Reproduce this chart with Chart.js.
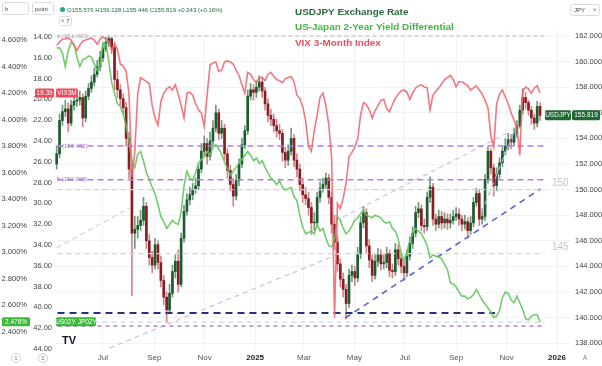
<!DOCTYPE html>
<html>
<head>
<meta charset="utf-8">
<script src="https://cdn.jsdelivr.net/npm/chart.js@4.4.1/dist/chart.umd.min.js"></script>
<style>
  html, body { margin: 0; padding: 0; background: #fff; }
  #wrap { width: 602px; height: 366px; }
</style>
</head>
<body>
<div id="wrap"><canvas id="chartCanvas" width="602" height="366"></canvas></div>
<script>
// ===============================
// DATA
// ===============================
// half-week candles, day numbers counted from 2024-01-01
const START_DAY = 126;   // 2024-05-06
const STEP_DAYS = 3.5;
const firstOpen = 152.0;

const usdjpyClose = [
  152.8,155.4,156.1,156.3,155.2,156.6,156.9,157.0,157.2,155.6,
  157.3,157.9,158.4,159.0,159.6,160.3,161.0,161.5,161.8,161.1,
  158.6,157.8,157.1,156.4,154.0,151.6,146.6,146.9,147.2,147.6,
  148.7,146.0,144.7,144.1,145.7,144.3,142.9,141.6,140.6,141.9,
  143.6,144.4,142.6,146.2,148.3,149.2,149.6,150.0,150.3,151.6,
  153.0,153.6,152.6,153.8,154.8,156.0,154.4,154.8,152.8,151.5,
  150.4,149.5,150.7,152.0,153.5,154.6,157.3,157.8,157.6,158.0,
  158.4,157.7,156.7,155.8,155.5,155.0,154.6,154.4,152.9,152.3,
  153.0,154.0,152.3,151.6,150.4,149.6,149.3,148.6,147.4,147.4,
  149.4,150.1,150.4,150.9,149.4,147.3,145.9,144.2,143.0,142.2,
  141.1,143.3,143.6,143.1,145.0,147.4,148.2,145.6,144.5,143.3,
  144.4,144.9,144.2,144.3,145.0,143.7,143.6,145.3,144.6,144.0,
  143.5,144.8,145.8,146.6,148.2,148.5,147.2,147.1,149.4,150.2,
  147.7,147.3,147.9,147.4,147.7,147.4,147.6,147.9,148.1,147.7,
  147.3,147.5,146.8,147.4,149.0,149.7,147.7,147.9,150.8,153.0,
  151.7,150.3,151.2,152.1,153.0,153.4,153.9,153.7,154.4,155.0,
  156.2,157.2,156.8,156.2,155.6,155.2,156.5,155.8
];
const usdjpyHigh = [
  153.4,155.9,156.6,157.0,156.8,157.0,157.4,157.6,157.7,157.5,
  157.7,158.3,158.9,159.5,160.1,160.8,161.4,161.9,162.0,161.9,
  161.3,159.3,158.2,157.5,156.8,154.5,152.0,147.9,147.9,148.4,
  149.4,149.0,146.5,145.2,146.2,146.0,144.8,143.3,142.0,142.6,
  144.1,144.9,145.3,146.6,148.8,149.7,150.2,150.5,150.9,152.0,
  153.6,154.2,154.0,154.5,155.4,156.6,156.3,155.4,155.1,153.2,
  151.9,150.9,151.2,152.4,154.0,155.0,157.8,158.3,158.2,158.5,
  158.9,158.8,158.0,157.1,156.3,155.9,155.5,155.1,154.7,153.3,
  153.5,154.8,154.3,152.8,152.0,150.9,150.2,149.8,149.0,148.2,
  149.8,150.6,150.9,151.3,151.2,149.8,148.0,146.4,144.6,143.5,
  142.6,143.8,144.1,144.0,145.5,147.9,148.7,148.5,146.1,144.9,
  144.9,145.4,145.3,144.9,145.5,145.3,144.2,145.8,145.7,145.0,
  144.4,145.3,146.3,147.1,148.7,149.0,148.8,147.7,149.8,151.0,
  150.5,148.1,148.4,148.3,148.2,148.1,148.1,148.4,148.6,148.5,
  148.0,148.0,147.8,147.9,149.4,150.1,150.0,148.5,151.2,153.3,
  153.2,152.0,151.7,152.5,153.4,154.0,154.4,154.3,154.8,155.4,
  156.6,157.9,157.6,157.0,156.5,155.9,156.9,156.8
];
const usdjpyLow = [
  151.6,152.5,155.0,155.7,154.5,155.0,156.2,156.5,156.6,154.9,
  155.3,157.0,157.6,158.1,158.8,159.3,160.0,160.8,161.2,160.6,
  157.8,157.2,156.6,155.9,153.4,150.9,141.7,145.4,146.2,146.8,
  147.2,145.4,144.1,143.5,143.8,143.8,142.4,141.0,139.6,140.3,
  141.6,143.1,142.0,142.4,145.9,148.0,148.8,149.2,149.7,150.0,
  151.3,152.6,152.0,152.3,153.5,154.5,153.9,154.0,152.3,150.9,
  149.9,148.7,149.2,150.3,151.7,153.2,154.3,157.0,157.0,157.2,
  157.7,157.2,156.2,155.3,155.0,154.5,154.1,153.9,152.2,151.7,
  151.9,152.7,151.8,151.0,149.9,149.0,148.8,148.0,146.5,146.8,
  147.1,149.0,149.8,150.1,148.9,146.6,145.3,143.6,142.4,141.6,
  139.9,140.8,142.8,142.5,142.8,144.6,147.0,145.1,143.9,142.8,
  143.0,144.0,143.7,143.8,143.9,143.2,143.1,143.3,144.1,143.5,
  142.9,143.2,144.5,145.4,146.3,147.8,146.8,146.6,146.8,149.0,
  147.2,146.8,147.0,146.9,147.0,146.9,147.0,147.3,147.6,147.2,
  146.8,146.9,146.2,146.5,147.1,148.7,147.2,147.3,147.6,150.5,
  151.2,149.5,149.9,150.9,151.8,152.7,153.1,153.2,153.4,154.1,
  154.8,155.9,156.3,155.8,155.1,154.7,154.9,155.4
];
const vix3m = [
  14.8,14.5,14.2,14.2,14.1,14.3,14.8,15.3,14.8,14.4,
  14.3,14.2,14.1,14.3,14.7,14.2,14.0,14.2,14.4,15.3,
  14.6,15.2,16.6,16.8,17.3,19.5,27.5,25.0,19.5,17.9,
  18.1,18.3,18.5,20.6,21.8,22.5,20.2,19.4,19.0,18.8,
  19.1,18.6,19.5,20.6,21.8,19.4,19.3,19.6,20.4,21.0,
  21.3,22.6,19.5,16.7,16.5,16.4,17.3,17.2,16.4,16.3,
  16.4,16.6,17.2,17.7,18.6,19.4,17.4,17.6,18.1,18.4,
  17.9,17.9,18.2,17.6,17.4,17.8,18.1,18.2,18.4,18.0,
  17.9,17.8,18.3,19.6,19.9,20.7,22.0,24.5,25.0,23.0,
  21.5,19.8,19.4,20.6,22.4,25.6,41.0,30.0,30.5,29.5,
  28.0,25.5,25.1,24.6,23.8,21.5,20.3,20.5,21.0,21.8,
  21.1,20.6,20.1,20.0,20.9,21.2,20.5,19.9,19.5,19.2,
  19.1,19.3,20.0,19.4,18.9,18.7,18.6,18.8,18.9,21.0,
  19.6,19.2,18.9,18.5,18.1,17.9,17.7,18.1,18.8,18.3,
  18.3,18.5,18.7,19.1,18.9,18.7,19.1,19.5,20.1,20.8,
  23.5,24.6,20.4,19.5,19.1,19.8,20.4,21.3,22.0,22.7,
  25.4,19.3,18.8,19.0,19.4,18.9,18.7,19.39
];
const yieldDiff = [
  4.54,4.54,4.50,4.40,4.52,4.58,4.57,4.47,4.40,4.45,
  4.46,4.48,4.47,4.42,4.37,4.41,4.58,4.57,4.44,4.28,
  4.20,4.12,4.10,4.04,3.95,3.83,3.69,3.64,3.74,3.76,
  3.69,3.60,3.55,3.49,3.44,3.36,3.27,3.23,3.18,3.21,
  3.24,3.22,3.21,3.30,3.50,3.61,3.56,3.54,3.60,3.67,
  3.70,3.72,3.76,3.73,3.79,3.81,3.78,3.74,3.68,3.63,
  3.58,3.61,3.64,3.67,3.70,3.73,3.76,3.73,3.69,3.71,
  3.67,3.69,3.64,3.60,3.56,3.54,3.51,3.54,3.49,3.47,
  3.48,3.49,3.42,3.39,3.28,3.19,3.14,3.15,3.16,3.14,
  3.21,3.16,3.18,3.11,3.05,3.04,3.10,3.27,3.24,3.18,
  3.14,3.16,3.20,3.24,3.26,3.29,3.32,3.28,3.27,3.26,
  3.28,3.27,3.26,3.23,3.22,3.23,3.18,3.16,3.10,2.99,
  2.94,3.00,3.09,3.14,3.18,3.16,3.14,3.10,3.05,2.96,
  2.98,2.97,2.97,2.95,2.91,2.87,2.77,2.76,2.74,2.70,
  2.67,2.67,2.65,2.66,2.68,2.72,2.68,2.64,2.61,2.58,
  2.55,2.51,2.52,2.56,2.66,2.70,2.69,2.64,2.62,2.67,
  2.62,2.57,2.50,2.49,2.52,2.53,2.53,2.476
];

// x axis month labels
const tickDates  = ["2024-07-01","2024-09-01","2024-11-01","2025-01-01","2025-03-01","2025-05-01","2025-07-01","2025-09-01","2025-11-01","2026-01-01"];
const tickLabels = ["Jul","Sep","Nov","2025","Mar","May","Jul","Sep","Nov","2026"];

// drawn levels on the USDJPY scale
const levelPrices = [162.0, 153.402, 150.768, 150.0, 145.0, 140.36, 139.65, 139.34];
const levelFrom   = "2024-05-07";
const levelTo     = ["2025-12-17","2025-12-17","2025-12-17","2025-12-17","2025-12-17","2025-10-18","2025-12-17","2025-12-17"];

// trend lines [date, price] -> [date, price]
const trendLines = [
  [["2024-07-09", 137.62], ["2025-04-13", 145.0]],
  [["2024-05-06", 145.44], ["2024-08-02", 148.56]],
  [["2025-04-17", 147.86], ["2025-11-07", 154.58]],
  [["2025-10-02", 148.25], ["2025-11-11", 154.66]],
  [["2025-04-20", 139.97], ["2025-12-12", 150.05]]
];

const lastClose = 155.819;
const lastVix = 19.39;
const lastYield = 2.476;
const ohlcText = "O155.576 H156.128 L155.446 C155.819 +0.243 (+0.16%)";

// ===============================
// BUILD
// ===============================
const dayOf = s => (Date.parse(s) - Date.parse("2024-01-01")) / 864e5;
const days = usdjpyClose.map((_, i) => START_DAY + i * STEP_DAYS);
const opens = usdjpyClose.map((c, i) => i ? usdjpyClose[i - 1] : firstOpen);
const isUp = usdjpyClose.map((c, i) => c >= opens[i]);

const FONT = "'Liberation Sans', Arial, sans-serif";

const levelStyles = [
  { c: "#b4b7bf", w: 1,   d: [4, 3] },
  { c: "#b27fdc", w: 1.5, d: [6, 4] },
  { c: "#b27fdc", w: 1.5, d: [6, 4] },
  { c: "#d2d3d7", w: 1.2, d: [5, 4] },
  { c: "#d2d3d7", w: 1.2, d: [5, 4] },
  { c: "#26337a", w: 2,   d: [7, 5] },
  { c: "#c9cacf", w: 1,   d: [5, 4] },
  { c: "#a45ac2", w: 1.2, d: [4, 4] }
];
const trendStyles = [
  { c: "#c3c2ea", w: 1.2, d: [5, 4] },
  { c: "#cfd0dc", w: 1.2, d: [5, 4] },
  { c: "#c3c8ec", w: 1.2, d: [5, 4] },
  { c: "#a9bbe8", w: 1.2, d: [5, 4] },
  { c: "#5863d4", w: 1.6, d: [6, 5] }
];

const datasets = [];

datasets.push({
  type: "line", label: "VIX", yAxisID: "yV", order: 0,
  data: days.map((d, i) => ({ x: d, y: vix3m[i] })),
  borderColor: "rgba(240,100,110,0.88)", borderWidth: 1.6,
  pointRadius: 0, tension: 0
});
datasets.push({
  type: "line", label: "Yield", yAxisID: "yP", order: 1,
  data: days.map((d, i) => ({ x: d, y: yieldDiff[i] })),
  borderColor: "rgba(98,200,92,0.9)", borderWidth: 1.6,
  pointRadius: 0, tension: 0
});
levelPrices.forEach((p, i) => {
  const s = levelStyles[i];
  datasets.push({
    type: "line", yAxisID: "yJ", order: 2,
    data: [{ x: dayOf(levelFrom), y: p }, { x: dayOf(levelTo[i]), y: p }],
    borderColor: s.c, borderWidth: s.w, borderDash: s.d, pointRadius: 0
  });
});
trendLines.forEach((t, i) => {
  const s = trendStyles[i];
  datasets.push({
    type: "line", yAxisID: "yJ", order: 2,
    data: t.map(([d, p]) => ({ x: dayOf(d), y: p })),
    borderColor: s.c, borderWidth: s.w, borderDash: s.d, pointRadius: 0
  });
});
datasets.push({
  type: "bar", yAxisID: "yJ", order: 3, grouped: false,
  data: days.map((d, i) => ({ x: d, y: [opens[i], usdjpyClose[i]] })),
  backgroundColor: isUp.map(u => u ? "#1d5a30" : "#8a1c22"),
  barThickness: 2, minBarLength: 1, borderWidth: 0
});
datasets.push({
  type: "bar", yAxisID: "yJ", order: 4, grouped: false,
  data: days.map((d, i) => ({ x: d, y: [usdjpyLow[i], usdjpyHigh[i]] })),
  backgroundColor: isUp.map(u => u ? "#6f9a7a" : "#d0858b"),
  barThickness: 1, borderWidth: 0
});

// ===============================
// OVERLAY (labels, tags, toolbar)
// ===============================
function tag(ctx, x, y, w, h, bg, text, size) {
  ctx.fillStyle = bg;
  ctx.beginPath(); ctx.roundRect(x, y - h / 2, w, h, 1.5); ctx.fill();
  ctx.fillStyle = "#fff";
  ctx.font = `${size}px ${FONT}`;
  ctx.textAlign = "center"; ctx.textBaseline = "middle";
  ctx.fillText(text, x + w / 2, y + 0.5);
}
function fitSize(ctx, text, weight, target) {
  ctx.font = `${weight} 20px ${FONT}`;
  return 20 * target / ctx.measureText(text).width;
}

const overlay = {
  id: "overlay",
  afterDraw(chart) {
    const ctx = chart.ctx;
    const { yJ, yV, yP } = chart.scales;
    ctx.save();

    // toolbar
    ctx.strokeStyle = "#d8dae0"; ctx.lineWidth = 1;
    ctx.beginPath(); ctx.roundRect(2.5, 2.5, 26, 12, 2); ctx.stroke();
    ctx.beginPath(); ctx.roundRect(32.5, 2.5, 21, 12, 2); ctx.stroke();
    ctx.beginPath(); ctx.roundRect(59.5, 16.5, 12, 9, 2); ctx.stroke();
    ctx.beginPath(); ctx.roundRect(570.5, 4.5, 29, 11, 2); ctx.stroke();
    ctx.fillStyle = "#444"; ctx.font = `6px ${FONT}`;
    ctx.textAlign = "left"; ctx.textBaseline = "middle";
    ctx.fillText("h", 5, 9);
    ctx.fillText("point", 35, 9);
    ctx.fillText("\u02c5 7", 61, 21.5);
    ctx.fillText("JPY", 574, 10.5);
    ctx.fillText("\u02c5", 593, 10.5);
    ctx.fillStyle = "#26a69a";
    ctx.beginPath(); ctx.arc(62.5, 9.5, 2.5, 0, Math.PI * 2); ctx.fill();
    ctx.fillStyle = "#1f6e3c";
    ctx.font = `${fitSize(ctx, ohlcText, "normal", 156)}px ${FONT}`;
    ctx.fillText(ohlcText, 67, 10);

    // titles
    const titles = [
      ["USDJPY Exchange Rate", "#2b6a3c", 12],
      ["US-Japan 2-Year Yield Differential", "#3fb63f", 27],
      ["VIX 3-Month Index", "#e9505c", 43]
    ];
    const ts = fitSize(ctx, titles[1][0], "bold", 159);
    ctx.font = `bold ${ts}px ${FONT}`;
    titles.forEach(([t, c, y]) => { ctx.fillStyle = c; ctx.fillText(t, 295, y); });

    // level labels
    ctx.font = `6px ${FONT}`;
    ctx.fillStyle = "#a9acb4";
    ctx.fillText("1 (161.950)", 57, yJ.getPixelForValue(162.0));
    ctx.fillStyle = "#a070d0";
    ctx.fillText("0 (153.402)", 57, yJ.getPixelForValue(153.402));
    ctx.fillText(".5 (150.768)", 55, yJ.getPixelForValue(150.768));
    ctx.fillStyle = "#c4c5c9"; ctx.font = `10px ${FONT}`;
    ctx.fillText("150", 552, yJ.getPixelForValue(150) - 6);
    ctx.fillText("145", 552, yJ.getPixelForValue(145) - 6);

    // last value tags
    const yv = yV.getPixelForValue(lastVix);
    tag(ctx, 35, yv, 19, 9, "#f0485a", lastVix.toFixed(2), 6.5);
    tag(ctx, 56, yv, 22, 9, "#f0485a", "VIX3M", 6.5);
    const yp = yP.getPixelForValue(lastYield);
    tag(ctx, 2, yp, 28, 9, "#3cb83a", lastYield.toFixed(3) + "%", 6.5);
    tag(ctx, 56, yp, 40, 9, "#3cb83a", "US02Y JP02Y", 6.5);
    const yj = yJ.getPixelForValue(lastClose);
    tag(ctx, 545, yj, 26, 10, "#1d6a33", "USDJPY", 6.5);
    tag(ctx, 572, yj, 28, 10, "#1d6a33", lastClose.toFixed(3), 6.5);

    // logo + bottom icons
    ctx.fillStyle = "#131722"; ctx.font = `bold 11px ${FONT}`;
    ctx.textAlign = "left";
    ctx.fillText("TV", 62, 341);
    ctx.strokeStyle = "#cfd1d6";
    [[16, "1"], [43, "2"]].forEach(([cx, t]) => {
      ctx.beginPath(); ctx.arc(cx, 358, 4.5, 0, Math.PI * 2); ctx.stroke();
      ctx.fillStyle = "#777"; ctx.font = `6px ${FONT}`; ctx.textAlign = "center";
      ctx.fillText(t, cx, 358.5);
    });
    ctx.fillStyle = "#888"; ctx.font = `7px ${FONT}`;
    ctx.fillText("A", 585, 358);
    ctx.restore();
  }
};

// ===============================
// CHART
// ===============================
const tickFont = { size: 7.5, family: FONT };
new Chart(document.getElementById("chartCanvas"), {
  type: "line",
  data: { datasets },
  options: {
    responsive: false,
    animation: false,
    devicePixelRatio: 1,
    layout: { padding: { top: 30, left: 0, right: 0, bottom: 0 } },
    plugins: { legend: { display: false }, tooltip: { enabled: false } },
    scales: {
      x: {
        type: "linear", position: "bottom", min: 124, max: 746.7, offset: false,
        afterBuildTicks: s => { s.ticks = tickDates.map(d => ({ value: dayOf(d) })); },
        afterFit: s => { s.height = 16; s.paddingLeft = 0; s.paddingRight = 0; },
        grid: { color: "#f1f2f5", drawTicks: false, offset: false },
        border: { display: false },
        ticks: {
          autoSkip: false, maxRotation: 0, padding: 3,
          callback: (v, i) => tickLabels[i],
          color: c => /^\d{4}$/.test(tickLabels[c.index]) ? "#222" : "#555",
          font: c => ({ size: 8, family: FONT, weight: /^\d{4}$/.test(tickLabels[c.index]) ? "bold" : "normal" })
        }
      },
      yJ: {
        position: "right", min: 137.47, max: 162.47,
        afterFit: s => { s.width = 32; },
        grid: { color: "#f1f2f5", drawTicks: false },
        border: { display: false },
        ticks: { stepSize: 2, includeBounds: false, padding: 5, color: "#444", font: tickFont,
                 callback: v => v.toFixed(3) }
      },
      yV: {
        position: "left", weight: 0, reverse: true, min: 13.33, max: 44.10,
        afterFit: s => { s.width = 25; },
        grid: { display: false, drawTicks: false },
        border: { display: false },
        ticks: { stepSize: 2, includeBounds: false, padding: 3, color: "#444", font: tickFont,
                 callback: v => v.toFixed(2) }
      },
      yP: {
        position: "left", weight: 1, min: 2.264, max: 4.675,
        afterFit: s => { s.width = 30; },
        grid: { display: false, drawTicks: false },
        border: { display: false },
        ticks: { stepSize: 0.2, includeBounds: false, padding: 3, color: "#444", font: tickFont,
                 callback: v => v.toFixed(3) + "%" }
      }
    }
  },
  plugins: [overlay]
});
</script>
</body>
</html>
